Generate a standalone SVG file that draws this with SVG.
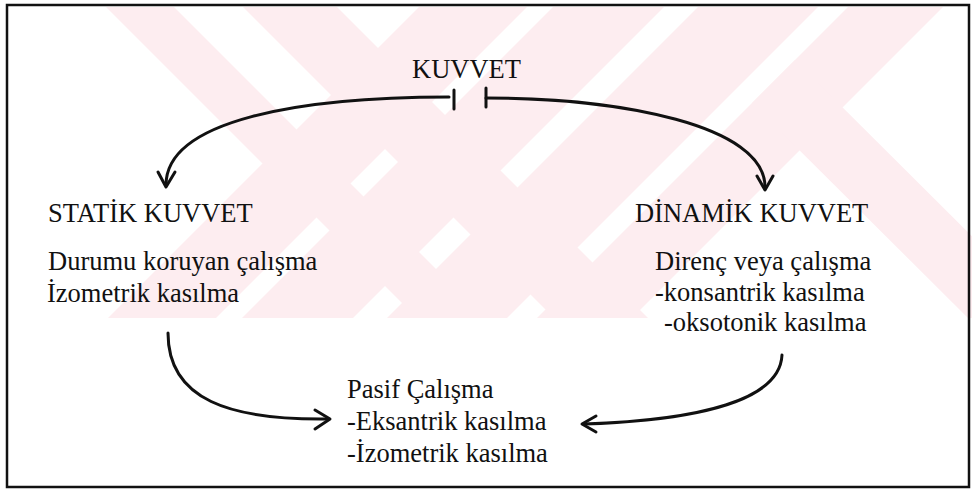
<svg xmlns="http://www.w3.org/2000/svg" width="972" height="492" viewBox="0 0 972 492">
<defs>
<style>
.t{font-family:"Liberation Serif","Times New Roman",serif;font-size:26.5px;fill:#111}
.c{fill:none;stroke:#111;stroke-width:3;stroke-linecap:round}
.a{fill:none;stroke:#111;stroke-width:3;stroke-linecap:round;stroke-linejoin:round}
.w{fill:#fdedf0}
</style>
<clipPath id="wm"><rect x="0" y="7" width="972" height="311"/></clipPath>
</defs>
<rect width="972" height="492" fill="#fff"/>
<g id="watermark" clip-path="url(#wm)">
<polygon class="w" points="99,0 167,0 489,322 421,322"/>
<polygon class="w" points="236,0 330,0 652,322 558,322"/>
<polygon class="w" points="426,0 534,0 212,322 104,322"/>
<polygon class="w" points="560,0 671,0 349,322 238,322"/>
<polygon class="w" points="705,0 825,0 503,322 383,322"/>
<polygon class="w" points="855,0 950,0 628,322 533,322"/>
<polygon class="w" points="752,103 795,60 1058,322 972,322"/>
</g>
<rect x="7" y="5" width="962" height="482" fill="none" stroke="#111" stroke-width="2.5"/>
<g id="connectors">
<path class="c" d="M449,97 C300,97 166,120 166,185"/>
<path class="a" d="M158,172 L166,187 L175,172"/>
<line class="c" x1="454" y1="90" x2="454" y2="109"/>
<path class="c" d="M486,98 C620,98 765,125 765,187"/>
<path class="a" d="M757,176 L765,190 L773,176"/>
<line class="c" x1="486" y1="88" x2="486" y2="107"/>
<path class="c" d="M168,333 C168,400 230,420 327,419"/>
<path class="a" d="M315,410 L330,419 L315,429"/>
<path class="c" d="M782,355 C780,400 700,420 584,424"/>
<path class="a" d="M596,416 L582,424 L596,432"/>
</g>
<g id="kuvvet"><text class="t" x="412" y="78">KUVVET</text></g>
<g id="statik">
<text class="t" x="48" y="222">STATİK KUVVET</text>
<text class="t" x="48" y="270">Durumu koruyan çalışma</text>
<text class="t" x="47" y="302">İzometrik kasılma</text>
</g>
<g id="dinamik">
<text class="t" x="635" y="222">DİNAMİK KUVVET</text>
<text class="t" x="655" y="270">Direnç veya çalışma</text>
<text class="t" x="655" y="301">-konsantrik kasılma</text>
<text class="t" x="664" y="331">-oksotonik kasılma</text>
</g>
<g id="pasif">
<text class="t" x="347" y="398">Pasif Çalışma</text>
<text class="t" x="347" y="430">-Eksantrik kasılma</text>
<text class="t" x="347" y="462">-İzometrik kasılma</text>
</g>
</svg>
